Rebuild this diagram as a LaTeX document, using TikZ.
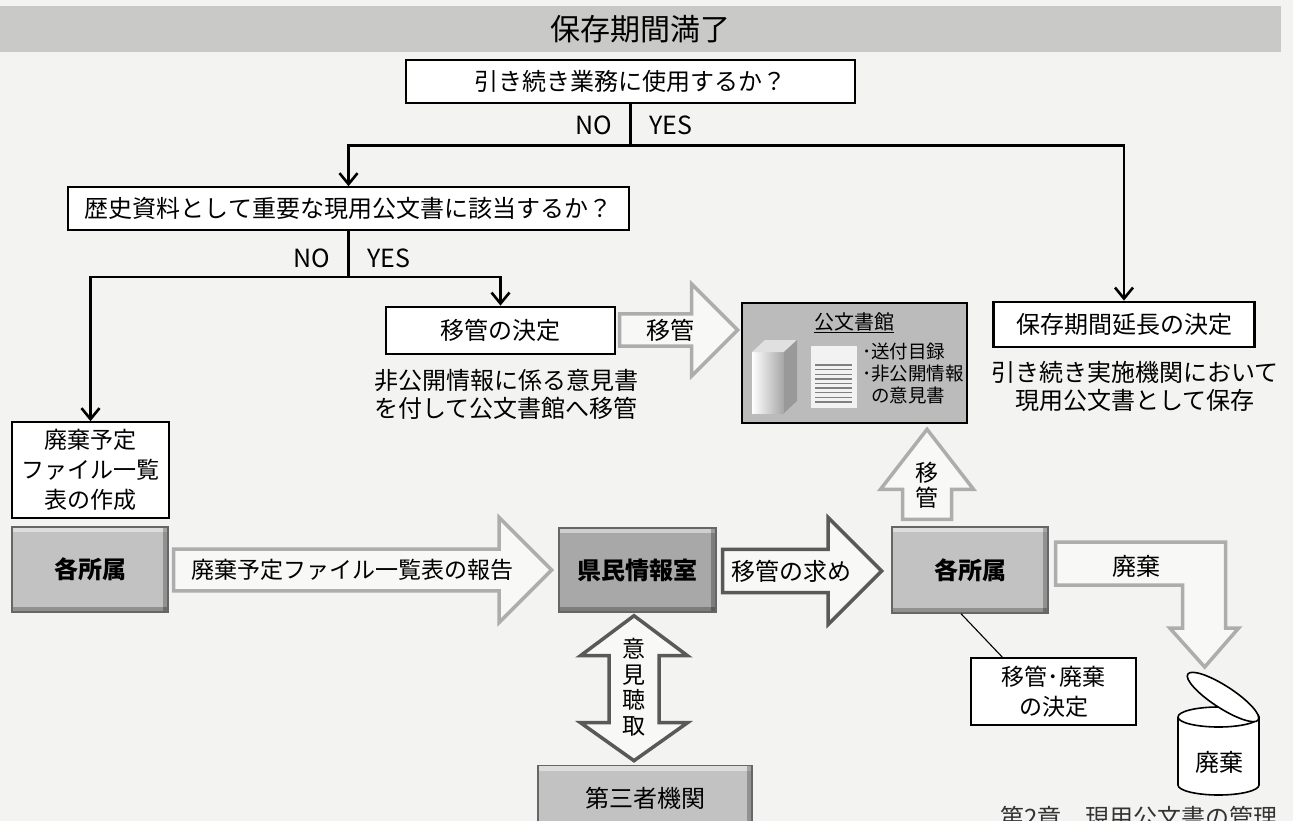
\documentclass[tikz,border=0pt]{standalone}
\usepackage{fontspec}
\setmainfont{Noto Sans CJK JP}
\usetikzlibrary{arrows.meta,shapes.arrows,calc}

\newcommand{\jfs}[2]{\fontsize{#1}{#2}\selectfont}

\definecolor{paper}{HTML}{F3F3F1}
\definecolor{band}{HTML}{C9C9C7}
\definecolor{boxgray}{HTML}{C2C2C2}
\definecolor{roomgray}{HTML}{A8A8A8}
\definecolor{archgray}{HTML}{BBBBBB}
\definecolor{arrowfill}{HTML}{F8F8F6}

\tikzset{
	qbox/.style={draw, line width=1.6pt, fill=white, inner sep=0pt, font=\jfs{24}{29}},
	dbox/.style={draw, line width=2.8pt, fill=white, inner sep=0pt, font=\jfs{24}{29}},
	flow/.style={line width=2.6pt, -{Straight Barb[length=11pt,width=18pt]}},
	bevelbox/.style={draw=black!60, line width=1.4pt, fill=#1, inner sep=0pt, font=\bfseries\jfs{24}{29},
		path picture={
			\fill[white, opacity=.45] (path picture bounding box.north west) rectangle ([yshift=-5pt]path picture bounding box.north east);
			\fill[black, opacity=.25] ([xshift=-5pt]path picture bounding box.north east) rectangle (path picture bounding box.south east);
			\fill[black, opacity=.25] (path picture bounding box.south west) rectangle ([yshift=5pt]path picture bounding box.south east);
		}},
	blockarrow/.style={single arrow, draw=#1, line width=3.5pt, fill=arrowfill, inner sep=0pt, font=\jfs{24}{29}},
	outline/.style={draw=#1, line width=3.5pt, fill=arrowfill, line join=miter},
	caption/.style={align=center, font=\jfs{24}{28}},
	yesno/.style={font=\jfs{25}{30}, inner sep=0pt},
}

\begin{document}
\begin{tikzpicture}[x=1pt, y=-1pt]
		% 背景と見出し
		\useasboundingbox (0,0) rectangle (1293,821);
		\fill[paper] (0,0) rectangle (1293,821);
		\fill[band] (0,6) rectangle (1281,52);
		\node[font=\jfs{30}{36}] (title) at (640,29) {保存期間満了};

		% 判断のボックス
		\node[qbox, minimum width=449pt, minimum height=43pt] (q1) at (630.5,81.5) {引き続き業務に使用するか？};
		\node[qbox, minimum width=561pt, minimum height=43pt] (q2) at (348.5,208.5) {歴史資料として重要な現用公文書に該当するか？};
		\node[qbox, align=center, minimum width=157pt, minimum height=96pt, font=\jfs{23}{30}] (plan) at (90.5,470) {廃棄予定\\ファイル一覧\\表の作成};
		\node[dbox, minimum width=229pt, minimum height=47pt] (transfer) at (500.5,330.5) {移管の決定};
		\node[dbox, minimum width=261pt, minimum height=45pt] (extend) at (1124,324.5) {保存期間延長の決定};
		\node[caption] (note1) at (506,394) {非公開情報に係る意見書\\を付して公文書館へ移管};
		\node[caption] (note2) at (1135,386.5) {引き続き実施機関において\\現用公文書として保存};

		% 分岐の線
		\coordinate (j1) at ($(q1.south)+(0,42)$);
		\coordinate (j2) at ($(q2.south)+(0,46)$);
		\draw[line width=2.6pt] (q1.south) -- (j1);
		\draw[flow] (j1) -| (q2.north);
		\draw[flow] (j1) -| (extend.north);
		\draw[line width=2.6pt] (q2.south) -- (j2);
		\draw[flow] (j2) -| (plan.north);
		\draw[flow] (j2) -| (transfer.north);
		\node[yesno, anchor=east] (no1) at (612,125) {NO};
		\node[yesno, anchor=west] (yes1) at (649,125) {YES};
		\node[yesno, anchor=east] (no2) at (330,258) {NO};
		\node[yesno, anchor=west] (yes2) at (367,258) {YES};

		% 公文書館
		\node[draw, line width=1.3pt, fill=archgray, minimum width=225pt, minimum height=120pt] (archive) at (854.5,363) {};
		\node[font=\jfs{20}{24}] (archtitle) at (854,323) {\underline{公文書館}};
		\node[anchor=west, align=left, inner sep=0pt, font=\jfs{18.5}{22}] (archlist) at (862,373) {･送付目録\\･非公開情報\\\phantom{･}の意見書};
		\shade[left color=white, right color=black!35] (752,352) rectangle (784,413);
		\fill[black!12] (752,352) -- (765,340) -- (797,340) -- (784,352) -- cycle;
		\fill[black!40] (784,352) -- (797,340) -- (797,401) -- (784,413) -- cycle;
		\fill[black!5] (811,346) rectangle (857,408);
		\foreach \i in {0,...,8}
			\draw[black!50, line width=1.4pt] (815,365+\i*4.6) -- (852,365+\i*4.6);
		\node[blockarrow=black!32, minimum height=118pt, minimum width=92pt, single arrow head extend=24pt, anchor=tip] (toarch) at (740,330) {移管};

		% 下の段
		\node[bevelbox=boxgray, minimum width=156pt, minimum height=85pt] (office) at (90,569.5) {各所属};
		\node[bevelbox=roomgray, minimum width=157pt, minimum height=84pt] (room) at (637.5,570) {県民情報室};
		\node[bevelbox=boxgray, minimum width=156pt, minimum height=86pt] (office2) at (970,570) {各所属};
		\node[bevelbox=boxgray, font=\jfs{24}{29}, minimum width=214pt, minimum height=66pt, anchor=north] (third) at (645,765) {第三者機関};
		\node[blockarrow=black!32, font=\jfs{23}{27}, minimum height=378pt, minimum width=105pt, single arrow head extend=19pt, anchor=tip] (report) at (554,570) {廃棄予定ファイル一覧表の報告};
		\node[blockarrow=black!65, minimum height=159pt, minimum width=107pt, single arrow head extend=19pt, anchor=tip] (request) at (884,571) {移管の求め};

		% 縦の矢印（移管・意見聴取）
		\coordinate (upbase) at ($(office2.north)+(-43,-7)$);
		\draw[outline=black!32] ($(upbase)+(-24.5,0)$) -- ++(0,-30) -- ++(-22,0) -- ++(46.5,-60) -- ++(46.5,60) -- ++(-22,0) -- ++(0,30) -- cycle;
		\node[align=center, font=\jfs{23}{25}] (upmovelbl) at (927,485) {移\\管};
		\coordinate (htop) at ($(room.south)+(-3.5,3)$);
		\draw[outline=black!65] (htop) -- ++(53.5,40) -- ++(-28.5,0) -- ++(0,67) -- ++(28.5,0) -- ++(-53.5,38) -- ++(-53.5,-38) -- ++(28.5,0) -- ++(0,-67) -- ++(-28.5,0) -- cycle;
		\node[align=center, font=\jfs{23}{25.5}] (hearinglbl) at (634,687) {意\\見\\聴\\取};

		% 廃棄の流れ
		\draw[outline=black!32] ($(office2.east)+(7,-28)$) -- ++(170,0) -- ++(0,86) -- ++(13,0) -- ++(-34,39) -- ++(-35,-39) -- ++(13,0) -- ++(0,-43) -- ++(-127,0) -- cycle;
		\node[font=\jfs{24}{29}] (discardlbl) at (1136,566) {廃棄};
		\coordinate (can) at (1218.5,717);
		\draw[line width=1.6pt, fill=white] ($(can)+(-40.5,0)$) -- ++(0,68) arc[start angle=180, end angle=360, x radius=40.5pt, y radius=10pt] -- ++(0,-68);
		\draw[line width=1.6pt, fill=white] (can) ellipse [x radius=40.5pt, y radius=10pt];
		\draw[line width=1.6pt, fill=white, rotate around={-33:(1223,697)}] (1223,697) ellipse [x radius=42pt, y radius=11pt];
		\node[font=\jfs{24}{29}] (canlbl) at (1219,762) {廃棄};
		\node[draw, line width=1.3pt, fill=white, align=center, minimum width=165pt, minimum height=67pt, font=\jfs{23}{30}] (decide) at (1053.5,691.5) {移管･廃棄\\の決定};
		\draw[line width=1.1pt] ([xshift=-9pt]office2.south) -- ([xshift=-51pt]decide.north);

		% ページ下の見出し
		\node[anchor=north west, inner sep=0pt, text=black!80, font=\jfs{24}{29}] (footer) at (1000,806) {第2章　現用公文書の管理};
	\end{tikzpicture}
\end{document}
